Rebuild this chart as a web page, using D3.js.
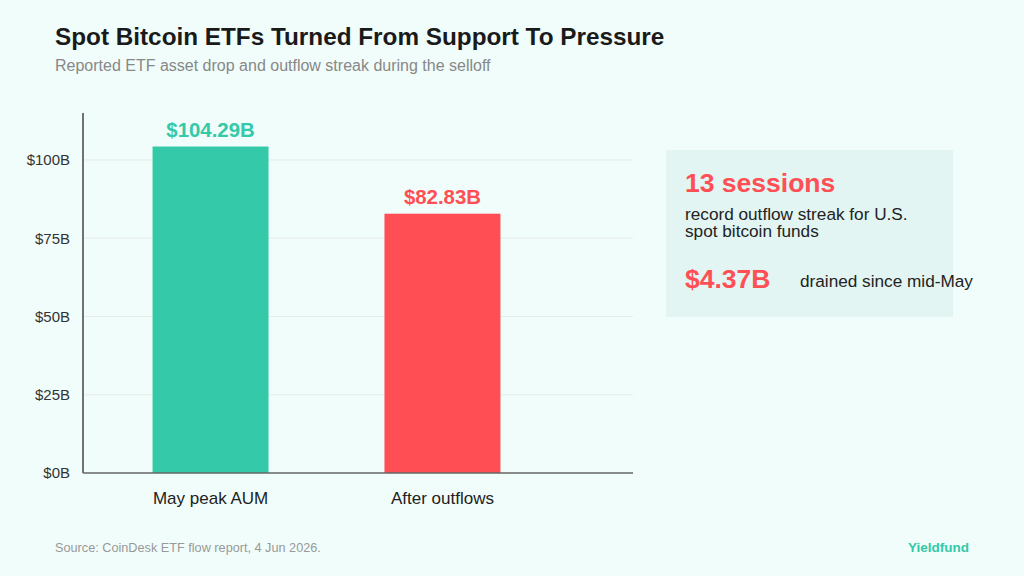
<!DOCTYPE html>
<html><head><meta charset="utf-8">
<script src="https://cdn.jsdelivr.net/npm/d3@7"></script>
<style>
html,body{margin:0;padding:0;background:#f0fdfa;}
svg{display:block;font-family:"Liberation Sans",Arial,sans-serif;}
</style></head>
<body>
<svg id="c" width="1024" height="576"></svg>
<script>
const categories = ["May peak AUM", "After outflows"];
const values = [104.29, 82.83];
const valueLabels = ["$104.29B", "$82.83B"];
const barColors = ["#34c9a8", "#ff4f54"];
const yTicks = [0, 25, 50, 75, 100];
const yTickLabels = ["$0B", "$25B", "$50B", "$75B", "$100B"];

(function(){
const svg = d3.select("#c");
svg.append("rect").attr("width",1024).attr("height",576).attr("fill","#f0fdfa");

svg.append("text").attr("x",55).attr("y",45).attr("font-size",24.3).attr("font-weight","bold").attr("fill","#1a1a1a")
  .text("Spot Bitcoin ETFs Turned From Support To Pressure");
svg.append("text").attr("x",55).attr("y",71).attr("font-size",16).attr("fill","#888")
  .text("Reported ETF asset drop and outflow streak during the selloff");

const pL = 83, pR = 633, pT = 113, pB = 473;
const y = d3.scaleLinear().domain([0,115]).range([pB, pT]);
const x = d3.scaleBand().domain(categories).range([pL, 570]).paddingInner(0.5).paddingOuter(0.3);

svg.append("g").selectAll("line").data(yTicks.filter(d=>d>0)).join("line")
  .attr("x1",pL).attr("x2",pR).attr("y1",d=>y(d)).attr("y2",d=>y(d))
  .attr("stroke","#e8eceb").attr("stroke-width",1);

svg.append("g").selectAll("rect").data(values).join("rect")
  .attr("x",(d,i)=>x(categories[i])).attr("width",x.bandwidth())
  .attr("y",d=>y(d)).attr("height",d=>pB-y(d))
  .attr("fill",(d,i)=>barColors[i]);

svg.append("g").selectAll("text").data(values).join("text")
  .attr("x",(d,i)=>x(categories[i])+x.bandwidth()/2).attr("y",d=>y(d)-10)
  .attr("text-anchor","middle").attr("font-size",20.4).attr("font-weight","bold")
  .attr("fill",(d,i)=>barColors[i]).text((d,i)=>valueLabels[i]);

const yAxis = d3.axisLeft(y).tickValues(yTicks).tickFormat((d,i)=>yTickLabels[i]).tickSize(0).tickPadding(13);
const gy = svg.append("g").attr("transform",`translate(${pL},0)`).call(yAxis);
gy.select(".domain").remove();
gy.selectAll("text").attr("font-size",15).attr("fill","#333").attr("font-family","Liberation Sans, Arial, sans-serif");
svg.append("line").attr("x1",pL).attr("x2",pL).attr("y1",pT).attr("y2",pB).attr("stroke","#444").attr("stroke-width",1.5);

const xAxis = d3.axisBottom(x).tickSize(0).tickPadding(19);
const gx = svg.append("g").attr("transform",`translate(0,${pB})`).call(xAxis);
gx.select(".domain").remove();
gx.selectAll("text").attr("font-size",17).attr("fill","#222").attr("font-family","Liberation Sans, Arial, sans-serif");
svg.append("line").attr("x1",pL).attr("x2",pR).attr("y1",pB).attr("y2",pB).attr("stroke","#666").attr("stroke-width",1.5);

svg.append("rect").attr("x",666).attr("y",150).attr("width",287).attr("height",167).attr("fill","#e2f5f2");
svg.append("text").attr("x",685).attr("y",192).attr("font-size",26.5).attr("font-weight","bold").attr("fill","#ff4f54").text("13 sessions");
svg.append("text").attr("x",685).attr("y",220).attr("font-size",17.2).attr("fill","#222").text("record outflow streak for U.S.");
svg.append("text").attr("x",685).attr("y",237).attr("font-size",17.2).attr("fill","#222").text("spot bitcoin funds");
svg.append("text").attr("x",685).attr("y",288).attr("font-size",26.5).attr("font-weight","bold").attr("fill","#ff4f54").text("$4.37B");
svg.append("text").attr("x",800).attr("y",287).attr("font-size",17.2).attr("fill","#222").text("drained since mid-May");

svg.append("text").attr("x",55).attr("y",552).attr("font-size",12.7).attr("fill","#999").text("Source: CoinDesk ETF flow report, 4 Jun 2026.");
svg.append("text").attr("x",969).attr("y",552).attr("text-anchor","end").attr("font-size",13.5).attr("font-weight","bold").attr("fill","#34c9a8").text("Yieldfund");
})();
</script>
</body></html>
